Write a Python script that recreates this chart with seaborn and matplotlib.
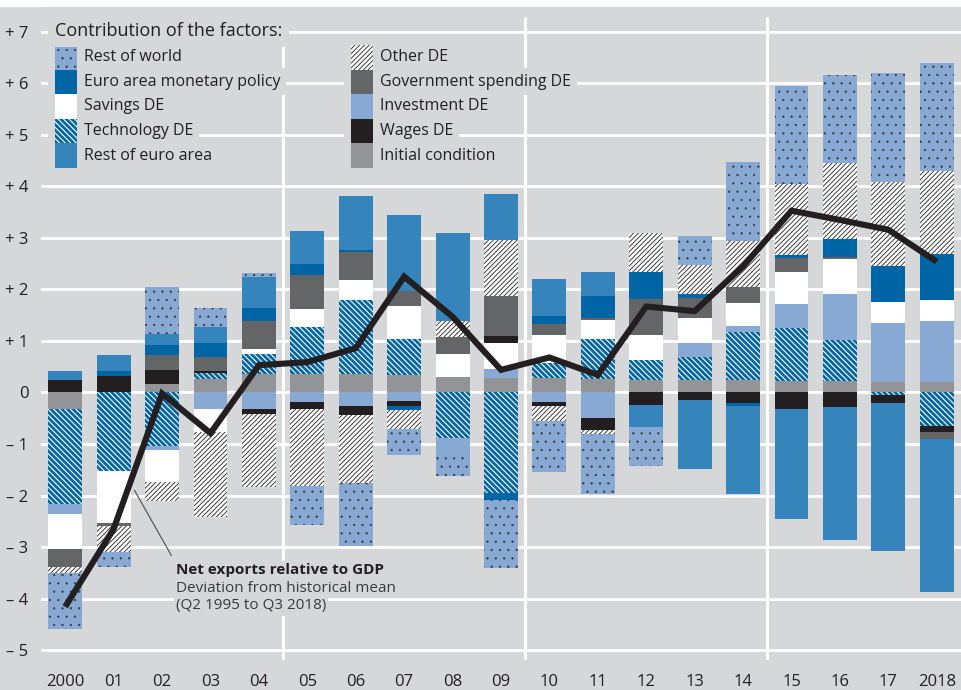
import numpy as np
import seaborn as sns
import matplotlib.pyplot as plt
from matplotlib.patches import Rectangle

# ---- data (percent of GDP), stacked in this order from the zero line outwards ----
years = ["2000", "01", "02", "03", "04", "05", "06", "07", "08", "09",
         "10", "11", "12", "13", "14", "15", "16", "17", "2018"]

initial_condition = [-0.33, 0.00, 0.16, 0.27, 0.35, 0.35, 0.35, 0.34, 0.31, 0.29,
                     0.29, 0.26, 0.24, 0.24, 0.24, 0.22, 0.22, 0.21, 0.21]
technology_de = [-1.84, -1.52, -1.04, 0.10, 0.39, 0.92, 1.44, 0.70, -0.89, -1.96,
                 0.28, 0.78, 0.40, 0.45, 0.94, 1.04, 0.80, -0.04, -0.66]
investment_de = [-0.18, 0.00, -0.08, -0.33, -0.33, -0.18, -0.27, -0.16, -0.25, 0.16,
                 -0.18, -0.50, 0.00, 0.28, 0.11, 0.45, 0.89, 1.13, 1.18]
savings_de = [-0.68, -1.02, -0.61, -0.43, 0.10, 0.36, 0.39, 0.64, 0.44, 0.52,
              0.55, 0.37, 0.48, 0.47, 0.44, 0.63, 0.68, 0.42, 0.41]
wages_de = [0.24, 0.32, 0.28, 0.05, -0.09, -0.14, -0.17, -0.10, 0.00, 0.13,
            -0.08, -0.23, -0.25, -0.14, -0.21, -0.32, -0.29, -0.16, -0.10]
government_de = [-0.35, -0.06, 0.28, 0.27, 0.54, 0.65, 0.55, 0.29, 0.33, 0.78,
                 0.21, 0.03, 0.70, 0.39, 0.31, 0.28, 0.04, 0.00, -0.15]
monetary_policy = [0.00, 0.10, 0.20, 0.28, 0.27, 0.21, 0.03, -0.08, 0.00, -0.13,
                   0.16, 0.44, 0.51, 0.09, -0.06, 0.04, 0.36, 0.70, 0.89]
other_de = [-0.13, -0.49, -0.37, -1.66, -1.41, -1.50, -1.32, -0.36, 0.31, 1.09,
            -0.30, -0.08, 0.77, 0.56, 0.90, 1.38, 1.47, 1.63, 1.61]
rest_euro_area = [0.17, 0.30, 0.21, 0.31, 0.60, 0.64, 1.06, 1.48, 1.71, 0.88,
                  0.71, 0.45, -0.42, -1.35, -1.71, -2.14, -2.57, -2.88, -2.97]
rest_of_world = [-1.09, -0.29, 0.92, 0.37, 0.07, -0.75, -1.23, -0.51, -0.49, -1.32,
                 -0.99, -1.17, -0.76, 0.56, 1.53, 1.92, 1.70, 2.11, 2.09]

net_exports = [-4.16, -2.65, -0.02, -0.79, 0.53, 0.59, 0.86, 2.25, 1.47, 0.44,
               0.68, 0.34, 1.67, 1.58, 2.45, 3.53, 3.35, 3.16, 2.54]

BG = "#d6d7d9"
TXT = "#231f20"
DARK_BLUE = "#0065a4"
MID_BLUE = "#3584bb"
LIGHT_BLUE = "#88a9d3"

# values, face colour, hatch, hatch colour, hatch width
styles = {
    "Initial condition": (initial_condition, "#929497", None, None, 0),
    "Technology DE": (technology_de, DARK_BLUE, "\\" * 6, "white", 0.8),
    "Investment DE": (investment_de, LIGHT_BLUE, None, None, 0),
    "Savings DE": (savings_de, "white", None, None, 0),
    "Wages DE": (wages_de, TXT, None, None, 0),
    "Government spending DE": (government_de, "#646567", None, None, 0),
    "Euro area monetary policy": (monetary_policy, DARK_BLUE, None, None, 0),
    "Other DE": (other_de, "white", "/" * 7, TXT, 0.6),
    "Rest of euro area": (rest_euro_area, MID_BLUE, None, None, 0),
    "Rest of world": (rest_of_world, LIGHT_BLUE, "..", "#3a3a3c", 0.4),
}

sns.set_theme(style="white", rc={"axes.facecolor": BG, "figure.facecolor": BG})
plt.rcParams["font.family"] = ["Open Sans", "DejaVu Sans"]
plt.rcParams["hatch.linewidth"] = 0.8

W, H = 961, 690
fig = plt.figure(figsize=(W / 100, H / 100), dpi=100)
ax = fig.add_axes([41 / W, 30 / H, 920 / W, 653 / H])


def set_hatch_width(artist, lw):
    if lw and hasattr(artist, "set_hatch_linewidth"):
        artist.set_hatch_linewidth(lw)


x = np.arange(len(years))
pos_base = np.zeros(len(years))
neg_base = np.zeros(len(years))
for name, (vals, face, hatch, hcol, hlw) in styles.items():
    v = np.array(vals)
    base = np.where(v >= 0, pos_base, neg_base)
    bars = ax.bar(x, v, width=0.7, bottom=base, color=face,
                  edgecolor=hcol if hatch else face, hatch=hatch,
                  linewidth=0, zorder=2)
    for b in bars:
        set_hatch_width(b, hlw)
    pos_base += np.clip(v, 0, None)
    neg_base += np.clip(v, None, 0)

sns.lineplot(x=x, y=net_exports, ax=ax, color=TXT, lw=4.4, zorder=4,
             solid_joinstyle="miter", solid_capstyle="butt")

# axes styling
ax.set_xlim(-0.49, 18.44)
ax.set_ylim(-5.194, 7.485)
yt = np.arange(-5, 8)
ax.set_yticks(yt, labels=[f"+ {t}" if t > 0 else ("0" if t == 0 else f"\u2013 {-t}") for t in yt])
ax.set_xticks(x, labels=years)
ax.set_xticks(np.arange(-0.5, 18.6, 1), minor=True)
ax.tick_params(axis="x", which="major", length=0, pad=10, labelsize=12, labelcolor=TXT)
ax.tick_params(axis="x", which="minor", length=21, width=1.8, color="white", direction="out")
ax.tick_params(axis="y", length=0, pad=9, labelsize=12, labelcolor=TXT)
ax.set_xlabel("")
ax.set_ylabel("")
ax.grid(axis="y", color="white", lw=2.0)
ax.grid(axis="x", visible=False)
ax.set_axisbelow(True)
for s in ax.spines.values():
    s.set_visible(False)
for sep in [4.5, 9.5, 14.5]:
    ax.axvline(sep, ymin=0, ymax=0.983, color="white", lw=2.2, zorder=1)

# white strip at the very top
fig.add_artist(Rectangle((0, 1 - 6 / H), 1, 6 / H, transform=fig.transFigure,
                         color="white", zorder=0))


# ---- legend, drawn by hand ----
def fig_box(px, py, w, h, **kw):
    r = Rectangle((px / W, 1 - (py + h) / H), w / W, h / H,
                  transform=fig.transFigure, **kw)
    fig.add_artist(r)
    return r


fig.text(55 / W, 1 - 31.5 / H, "Contribution of the factors:", ha="left", va="center",
         fontsize=13, color=TXT, bbox=dict(fc=BG, ec="none", pad=5), zorder=5)

columns = [
    (55, ["Rest of world", "Euro area monetary policy", "Savings DE",
          "Technology DE", "Rest of euro area"]),
    (351, ["Other DE", "Government spending DE", "Investment DE",
           "Wages DE", "Initial condition"]),
]
row_h = 24.6
for sx, names in columns:
    fig_box(sx - 7, 40, 36, 136, facecolor=BG, edgecolor="none", zorder=3)
    for i, name in enumerate(names):
        vals, face, hatch, hcol, hlw = styles[name]
        top = 45 + i * row_h
        r = fig_box(sx, top, 22, row_h, facecolor=face,
                    edgecolor=hcol if hatch else face, hatch=hatch,
                    linewidth=0, zorder=4)
        set_hatch_width(r, hlw)
        fig.text((sx + 29) / W, 1 - (top + row_h / 2) / H, name, ha="left", va="center",
                 fontsize=11.5, color=TXT, bbox=dict(fc=BG, ec="none", pad=4), zorder=5)

# ---- annotation for the line ----
ax.annotate("", xy=(1.4, -1.85), xytext=(2.22, -3.21),
            arrowprops=dict(arrowstyle="-", color="#4d4d4f", lw=0.8), zorder=3)
note = [("Net exports relative to GDP", "bold", TXT),
        ("Deviation from historical mean", "normal", "#3a3a3c"),
        ("(Q2 1995 to Q3 2018)", "normal", "#3a3a3c")]
for i, (txt, weight, col) in enumerate(note):
    fig.text(176 / W, 1 - (570 + i * 18) / H, txt, ha="left", va="center",
             fontsize=11, fontweight=weight, color=col,
             bbox=dict(fc=BG, ec="none", pad=1.5), zorder=5)

fig.savefig("out.png", dpi=100, facecolor=BG)
